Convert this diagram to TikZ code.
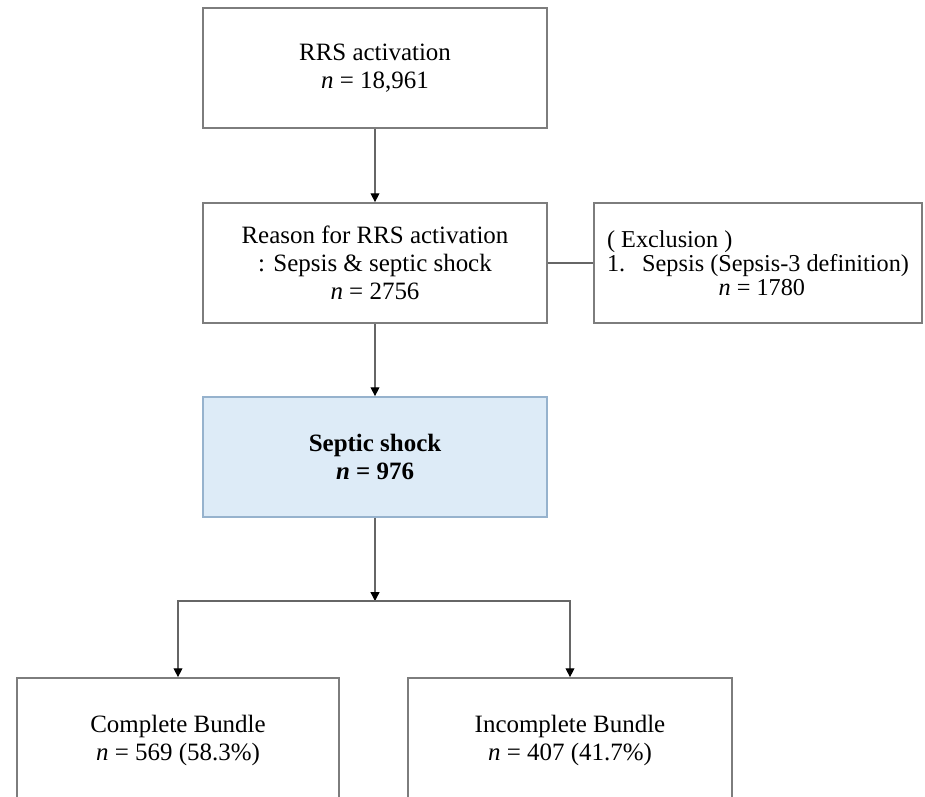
\documentclass[tikz,border=0pt]{standalone}
\usepackage{fontspec}
\setmainfont{Liberation Serif}
\usetikzlibrary{arrows.meta, positioning}

\definecolor{boxline}{RGB}{125,125,125}
\definecolor{shockfill}{RGB}{221,235,247}
\definecolor{shockline}{RGB}{150,178,205}

\tikzset{
  flowbox/.style={draw=boxline, line width=1pt, minimum width=6.88cm, minimum height=2.4cm,
    inner sep=0pt, align=center, font=\fontsize{14.2}{16}\selectfont},
  flowline/.style={draw=black!60, line width=0.7pt},
  flowarrow/.style={flowline, -{Triangle[width=5pt,length=5pt,color=black]}}
}

\begin{document}
\begin{tikzpicture}
  \clip (0,0) rectangle (18.5,-15.92);

  % Screening boxes
  \node[flowbox] (rrs) at (7.5,-1.36) {RRS activation\\ \textit{n} = 18,961};
  \node[flowbox] (reason) at (7.5,-5.26) {Reason for RRS activation\\ : Sepsis \& septic shock\\ \textit{n} = 2756};
  \node[flowbox, minimum width=6.56cm, align=left,
    font=\fontsize{13.8}{13.5}\selectfont] (excl) at (15.16,-5.26)
    {( Exclusion )\\ 1.\hspace{0.7em}Sepsis (Sepsis-3 definition)\\ \hspace*{4.6em}\textit{n} = 1780};

  % Study group (highlighted)
  \node[flowbox, fill=shockfill, draw=shockline] (shock) at (7.5,-9.14)
    {\textbf{Septic shock}\\ \textbf{\textit{n} = 976}};

  % Bundle groups, cut at the lower edge
  \node[flowbox, minimum width=6.44cm, minimum height=2.5cm] (complete) at (3.56,-14.81)
    {Complete Bundle\\ \textit{n} = 569 (58.3\%)};
  \node[flowbox, minimum width=6.48cm, minimum height=2.5cm] (incomplete) at (11.4,-14.81)
    {Incomplete Bundle\\ \textit{n} = 407 (41.7\%)};

  % Connectors
  \coordinate (split) at (7.5,-12.02);
  \draw[flowarrow] (rrs) -- (reason);
  \draw[flowline] (reason) -- (excl);
  \draw[flowarrow] (reason) -- (shock);
  \draw[flowarrow] (shock) -- (split);
  \draw[flowarrow] (split) -| (complete);
  \draw[flowarrow] (split) -| (incomplete);
\end{tikzpicture}
\end{document}
